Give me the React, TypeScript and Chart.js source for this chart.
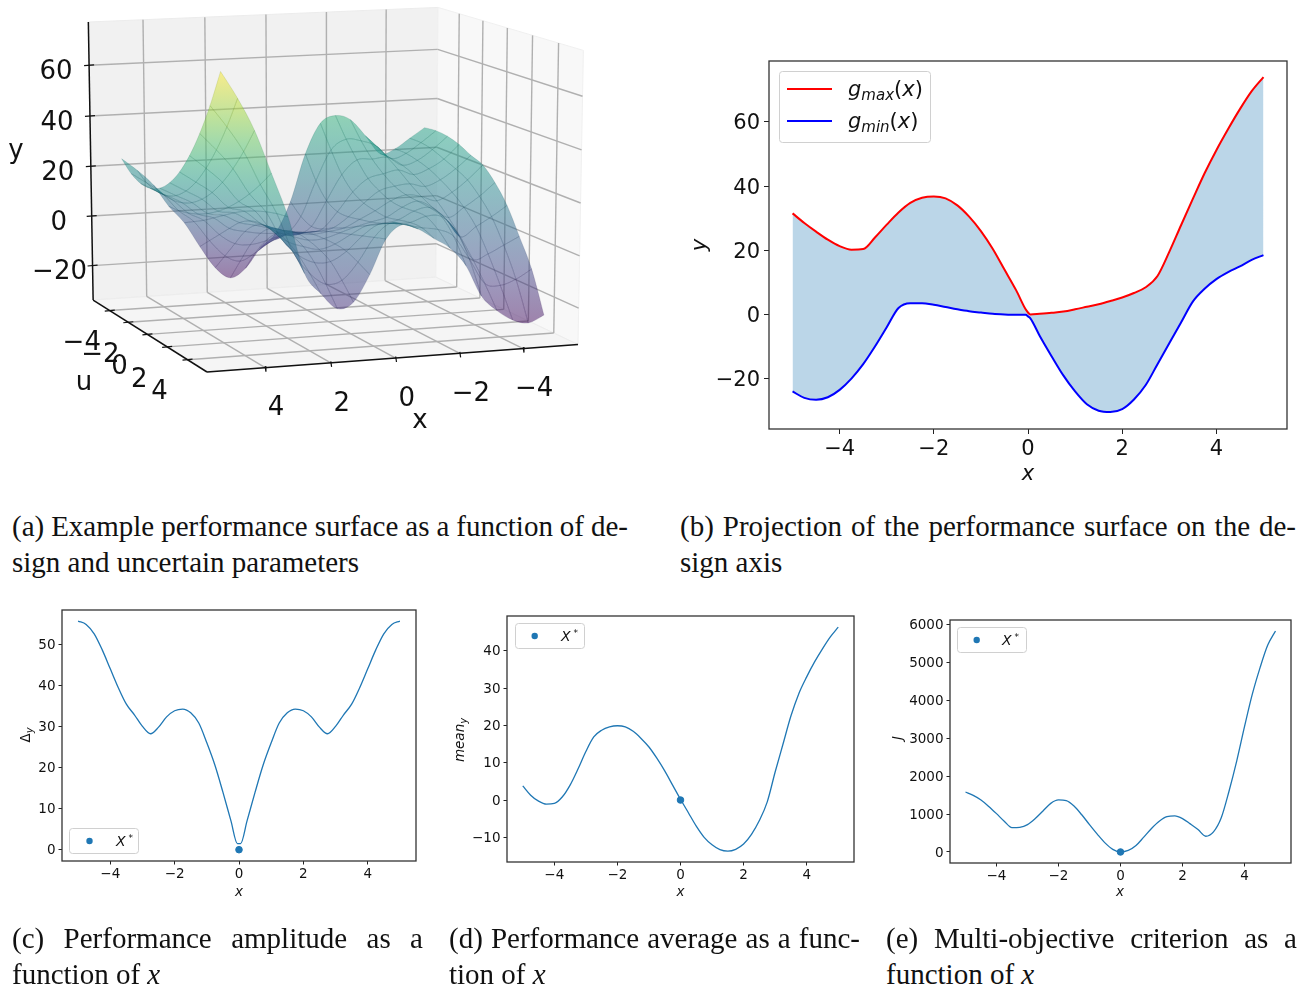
import React, { useEffect, useRef } from "react";
import { Chart, registerables } from "chart.js";
Chart.register(...registerables);

const FONT = '"DejaVu Sans"';
// ---------- 2D data ----------
const xsBand = [-5,-4.75,-4.5,-4.25,-4,-3.75,-3.5,-3.25,-3,-2.75,-2.5,-2.25,-2,-1.75,-1.5,-1.25,-1,-0.75,-0.5,-0.25,-0.05,0,0.05,0.25,0.5,0.75,1,1.25,1.5,1.75,2,2.25,2.5,2.75,3,3.25,3.5,3.75,4,4.25,4.5,4.75,5];
const gMax = [31.5,28.5,25.8,23.3,21.3,20.2,20.4,24,28,31.8,34.8,36.4,36.8,36.2,34,30.5,26,20.5,14,7.5,1.6,0.6,0,0.2,0.5,0.9,1.6,2.4,3.2,4.2,5.3,6.7,8.5,12,19.5,27.8,36,44,51.2,57.8,64,69.6,74];
const gMin = [-24,-26,-26.6,-25.8,-23.5,-20,-15.5,-10,-4,2,3.5,3.5,3,2.3,1.6,1,0.6,0.2,0,-0.1,-0.1,-0.6,-1.2,-6.7,-13,-19,-24,-28,-30,-30.4,-29.5,-26.5,-22,-15.5,-9,-2.5,4,8,11,13.2,15,17,18.5];
const xsDelta = [-5,-4.75,-4.5,-4.25,-4,-3.75,-3.5,-3.25,-3,-2.75,-2.5,-2.25,-2,-1.75,-1.5,-1.25,-1,-0.75,-0.5,-0.25,-0.05,0.05,0.25,0.5,0.75,1,1.25,1.5,1.75,2,2.25,2.5,2.75,3,3.25,3.5,3.75,4,4.25,4.5,4.75,5];
const deltaY = [55.6,54.8,52.5,48.6,44,39.4,35.4,32.8,30,28.2,29.8,32.3,33.8,34.2,33.3,30.8,26,20.6,14,7,1.5,1.5,7,14,20.6,26,30.8,33.3,34.2,33.8,32.3,29.8,28.2,30,32.8,35.4,39.4,44,48.6,52.5,54.8,55.6];
const xsFine = [-5,-4.75,-4.5,-4.25,-4,-3.75,-3.5,-3.25,-3,-2.75,-2.5,-2.25,-2,-1.75,-1.5,-1.25,-1,-0.75,-0.5,-0.25,0,0.25,0.5,0.75,1,1.25,1.5,1.75,2,2.25,2.5,2.75,3,3.25,3.5,3.75,4,4.25,4.5,4.75,5];
const meanY = [3.8,1.3,-0.3,-1.1,-0.9,0.8,4,8.3,13,16.9,18.7,19.6,19.9,19.6,18.4,16.5,14.2,11.2,7.8,4,0.2,-3.4,-7,-10,-12,-13.3,-13.7,-13.2,-11.8,-9.2,-5.5,-0.5,7.5,15,22.5,28.5,33,37,40.5,43.7,46.3];
const criterionJ = [1580,1490,1370,1200,1010,810,640,650,720,880,1080,1280,1370,1350,1210,980,720,470,240,70,0,40,170,390,620,810,930,950,880,740,590,415,530,900,1600,2400,3300,4150,4850,5450,5820];
// ---------- surface data: one row per x value, one column per u value ----------
const surfaceX = [-5,-4.5,-4,-3.5,-3,-2.5,-2,-1.5,-1,-0.5,0,0.5,1,1.5,2,2.5,3,3.5,4,4.5,5];
const surfaceU = [-5,-4,-3,-2,-1,0,1,2,3,4,5];
const surfaceY = [
[30,30.5,30,28.5,26,24,19,12,2,-8.5,-24],
[26,26,25,23,21,18.5,14,8,-1,-12,-26.6],
[22,22,21,19.5,17,14,10,4.5,-4,-14,-25],
[20.4,20.3,19.4,17.5,14.7,11,6.4,0.9,-5.5,-12.8,-21],
[28,25.7,22.9,19.7,16.1,13,10.5,8.5,5,-3,-15],
[34.8,28,22.5,18.5,15.5,14,13.5,13,11.5,6,-3],
[36.8,29,22.5,17,14,12,11.5,12,12,9,4],
[34,25,17,12,9.5,8.5,8,9,10,10,8],
[22,13,7,4.5,4.5,5.5,6.5,8,10,11.5,12],
[3,-1,-3,-2,0.5,2.5,5,7.5,10,12.5,14],
[-9.5,-8,-6,-3,-0.5,1.5,3,4.5,6,7.5,9],
[-15,-10.5,-6,-2.8,-0.5,0.8,1.2,1.2,0.5,-1.5,-4],
[-23,-14.5,-7.7,-2.6,0.5,1.6,1,-0.5,-3,-8,-14],
[-26.5,-17.5,-8.8,-2.2,1.8,3.2,2.8,1,-3,-9,-16],
[-22,-15,-8,-1.1,3.4,5.3,5,3.3,0.2,-4.5,-10],
[-13,-8.5,-4,0.5,4.8,7.5,8.6,8.1,6.4,3.7,-2],
[-3,-0.5,2,5,8,11,13.6,15.7,17.4,18.7,19.5],
[4,4.3,5.3,6.9,9.1,12,15.5,19.7,24.5,29.9,36],
[13,11.3,10.9,11.7,13.7,17,21.5,27.3,34.3,42.5,52],
[19,15.9,14.6,14.9,16.8,20.5,25.8,32.9,41.6,51.9,64],
[24,20,18,18,20,24,30,38,48,60,74],
];
const ticks3dX = [4,2,0,-2,-4];
const ticks3dU = [-4,-2,0,2,4];
const ticks3dY = [-20,0,20,40,60];
const viridis = ["#440154","#482475","#414487","#355f8d","#2a788e","#21918c","#22a884","#44bf70","#7ad151","#bddf26","#fde725"];

const fmt = (v: number) => (v < 0 ? "\u2212" + Math.abs(v) : String(v));
type Run = { t: string; size: number; italic?: boolean; dy?: number };

function drawRuns(ctx: any, x: number, y: number, runs: Run[], rotate = false, center = false) {
  ctx.save();
  ctx.translate(x, y);
  if (rotate) ctx.rotate(-Math.PI / 2);
  ctx.fillStyle = "#111";
  ctx.textBaseline = "alphabetic";
  ctx.textAlign = "left";
  const fontOf = (r: Run) => `${r.italic === false ? "" : "italic "}${r.size}px ${FONT}`;
  let w = 0;
  for (const r of runs) { ctx.font = fontOf(r); w += ctx.measureText(r.t).width; }
  let cx = center ? -w / 2 : 0;
  for (const r of runs) {
    ctx.font = fontOf(r);
    ctx.fillText(r.t, cx, r.dy || 0);
    cx += ctx.measureText(r.t).width;
  }
  ctx.restore();
}

function roundBox(ctx: any, x: number, y: number, w: number, h: number) {
  ctx.save();
  ctx.beginPath();
  ctx.roundRect(x + 0.5, y + 0.5, w, h, 3);
  ctx.fillStyle = "rgba(255,255,255,0.9)";
  ctx.fill();
  ctx.strokeStyle = "#d0d0d0";
  ctx.lineWidth = 1;
  ctx.stroke();
  ctx.restore();
}

type Frame = { l: number; r: number; t: number; b: number };
const M = { left: 90, right: 12, top: 22, bottom: 70 };
const rectOf = (f: Frame) => ({ left: f.l - M.left, top: f.t - M.top, width: f.r - f.l + M.left + M.right, height: f.b - f.t + M.top + M.bottom });

function panelConfig(f: Frame, ylim: number[], yTicks: number[], size: number, tickLen: number, datasets: any[], overlay: (ctx: any) => void) {
  const tickOpts = { color: "#111", font: { family: FONT, size }, callback: (v: any) => fmt(Number(v)), maxRotation: 0, autoSkip: false };
  const grid = { display: true, drawOnChartArea: false, drawTicks: true, tickLength: tickLen, tickColor: "#222", tickWidth: 1 };
  return {
    type: "line",
    data: { datasets },
    options: {
      animation: false, responsive: false, devicePixelRatio: 1,
      layout: { padding: { top: M.top, right: M.right, left: 0, bottom: 0 } },
      plugins: { legend: { display: false }, title: { display: false }, tooltip: { enabled: false } },
      elements: { point: { radius: 0 } },
      scales: {
        x: {
          type: "linear", min: -5.5, max: 5.5, grid, border: { display: false },
          ticks: { ...tickOpts, padding: size > 15 ? 3 : 2 },
          afterBuildTicks: (s: any) => { s.ticks = [-4, -2, 0, 2, 4].map((value) => ({ value })); },
          afterFit: (s: any) => { s.height = M.bottom; },
        },
        y: {
          type: "linear", min: ylim[0], max: ylim[1], grid, border: { display: false },
          ticks: { ...tickOpts, padding: size > 15 ? 4 : 3, labelOffset: size > 15 ? 2 : 1.2 },
          afterBuildTicks: (s: any) => { s.ticks = yTicks.map((value) => ({ value })); },
          afterFit: (s: any) => { s.width = M.left; },
        },
      },
    },
    plugins: [{
      id: "overlay",
      afterDraw(chart: any) {
        const c = chart.ctx; const a = chart.chartArea;
        c.save();
        c.strokeStyle = "#333"; c.lineWidth = 1.3;
        c.strokeRect(a.left, a.top, a.right - a.left, a.bottom - a.top);
        c.restore();
        c.save();
        c.translate(-(f.l - M.left), -(f.t - M.top));
        overlay(c);
        c.restore();
      },
    }],
  };
}

const pts = (xs: number[], ys: number[]) => xs.map((x, i) => ({ x, y: ys[i] }));
const curve = (xs: number[], ys: number[], color: string, width: number, extra: any = {}) => ({
  data: pts(xs, ys), borderColor: color, borderWidth: width, pointRadius: 0, cubicInterpolationMode: "monotone", fill: false, ...extra,
});
const star = (x: number, y: number, color = "#1f77b4") => ({
  data: [{ x, y }], showLine: false, pointRadius: 3.3, pointBackgroundColor: color, pointBorderColor: color, order: -1,
});

function smallLegend(c: any, x: number, y: number, mx: number, tx: number) {
  roundBox(c, x, y, 69, 25);
  c.beginPath(); c.arc(mx, y + 13, 3.2, 0, 7); c.fillStyle = "#1f77b4"; c.fill();
  drawRuns(c, tx, y + 18, [{ t: "X", size: 14 }, { t: " *", size: 9, dy: -5, italic: false }]);
}

const frameB: Frame = { l: 769, r: 1287, t: 61, b: 429 };
const frameC: Frame = { l: 62, r: 416, t: 610, b: 861 };
const frameD: Frame = { l: 507, r: 854, t: 616, b: 862 };
const frameE: Frame = { l: 950, r: 1291, t: 620, b: 863 };

const configB = () => panelConfig(frameB, [-35.7, 79], [-20, 0, 20, 40, 60], 21, 5, [
  curve(xsBand, gMax, "#ff0000", 2),
  curve(xsBand, gMin, "#0000ff", 2, { fill: "-1", backgroundColor: "rgba(31,119,180,0.3)" }),
], (c) => {
  roundBox(c, 779, 71, 151, 71);
  c.lineWidth = 2;
  c.strokeStyle = "#ff0000"; c.beginPath(); c.moveTo(787, 89); c.lineTo(832, 89); c.stroke();
  c.strokeStyle = "#0000ff"; c.beginPath(); c.moveTo(787, 121); c.lineTo(832, 121); c.stroke();
  drawRuns(c, 848, 96, [{ t: "g", size: 21 }, { t: "max", size: 15, dy: 4 }, { t: "(", size: 21, italic: false }, { t: "x", size: 21 }, { t: ")", size: 21, italic: false }]);
  drawRuns(c, 848, 128, [{ t: "g", size: 21 }, { t: "min", size: 15, dy: 4 }, { t: "(", size: 21, italic: false }, { t: "x", size: 21 }, { t: ")", size: 21, italic: false }]);
  drawRuns(c, 1028, 480, [{ t: "x", size: 21 }], false, true);
  drawRuns(c, 706, 245, [{ t: "y", size: 21 }], true, true);
});
const configC = () => panelConfig(frameC, [-2.75, 58.3], [0, 10, 20, 30, 40, 50], 13.5, 3.5, [
  star(0, 0), curve(xsDelta, deltaY, "#1f77b4", 1.3),
], (c) => {
  smallLegend(c, 69, 828, 89.5, 116);
  drawRuns(c, 239, 896, [{ t: "x", size: 13.5 }], false, true);
  drawRuns(c, 30, 735, [{ t: "\u0394", size: 13.5, italic: false }, { t: "y", size: 10, dy: 3 }], true, true);
});
const configD = () => panelConfig(frameD, [-16.6, 49.3], [-10, 0, 10, 20, 30, 40], 13.5, 3.5, [
  star(0, 0), curve(xsFine, meanY, "#1f77b4", 1.3),
], (c) => {
  smallLegend(c, 515, 623, 534.7, 561);
  drawRuns(c, 680.5, 896, [{ t: "x", size: 13.5 }], false, true);
  drawRuns(c, 464, 740, [{ t: "mean", size: 13.5 }, { t: "y", size: 10, dy: 3 }], true, true);
});
const configE = () => panelConfig(frameE, [-290, 6110], [0, 1000, 2000, 3000, 4000, 5000, 6000], 13.5, 3.5, [
  star(0, 0), curve(xsFine, criterionJ, "#1f77b4", 1.3),
], (c) => {
  smallLegend(c, 957, 627, 976.7, 1002);
  drawRuns(c, 1120, 896, [{ t: "x", size: 13.5 }], false, true);
  drawRuns(c, 902, 738, [{ t: "J", size: 13.5 }], true, true);
});

// ---------- 3D panel ----------
const W3 = 620, H3 = 450;
const LIM = { xmin: -5.75, xmax: 5.75, umin: -5.85, umax: 5.85, zmin: -34, zmax: 77 };
const ELEV = 12 * Math.PI / 180, AZIM = 70.2 * Math.PI / 180, DIST = 10;
const nrm = [Math.cos(ELEV) * Math.cos(AZIM), Math.cos(ELEV) * Math.sin(AZIM), Math.sin(ELEV)];
const eye = nrm.map((v) => 0.5 + DIST * v);
const right = (() => { const l = Math.hypot(nrm[0], nrm[1]); return [-nrm[1] / l, nrm[0] / l, 0]; })();
const up = [nrm[1] * right[2] - nrm[2] * right[1], nrm[2] * right[0] - nrm[0] * right[2], nrm[0] * right[1] - nrm[1] * right[0]];
const dot = (a: number[], b: number[]) => a[0] * b[0] + a[1] * b[1] + a[2] * b[2];
function view(x: number, u: number, z: number) {
  const P = [(x - LIM.xmin) / (LIM.xmax - LIM.xmin) - eye[0], (u - LIM.umin) / (LIM.umax - LIM.umin) - eye[1], (z - LIM.zmin) / (LIM.zmax - LIM.zmin) - eye[2]];
  const d = dot(nrm, P);
  return { px: (dot(right, P) * DIST) / -d, py: (dot(up, P) * DIST) / -d, d };
}
const aF = view(LIM.xmax, LIM.umax, LIM.zmin), aG = view(LIM.xmin, LIM.umax, LIM.zmin), aH = view(LIM.xmax, LIM.umin, LIM.zmax);
const Ax = (578 - 207) / (aG.px - aF.px), Bx = 207 - Ax * aF.px;
const Ay = (22 - 372) / (aH.py - aF.py), By = 372 - Ay * aF.py;
const proj = (x: number, u: number, z: number) => { const v = view(x, u, z); return { x: Ax * v.px + Bx, y: Ay * v.py + By }; };

function hexRgb(h: string) { return [1, 3, 5].map((i) => parseInt(h.slice(i, i + 2), 16)); }
function cmap(t: number, alpha: number, k = 1) {
  const s = Math.max(0, Math.min(0.9999, t)) * (viridis.length - 1);
  const i = Math.floor(s), f = s - i;
  const a = hexRgb(viridis[i]), b = hexRgb(viridis[i + 1]);
  const c = a.map((v, j) => Math.round((v + (b[j] - v) * f) * k));
  return `rgba(${c[0]},${c[1]},${c[2]},${alpha})`;
}
const tOf = (z: number) => (z + 30.5) / 104.5;

function config3D() {
  const { xmin, xmax, umin, umax, zmin, zmax } = LIM;
  const paint: any[] = [];
  const seg = (a: number[], b: number[], color: string, width: number) => paint.push({ data: [proj(a[0], a[1], a[2]), proj(b[0], b[1], b[2])], borderColor: color, borderWidth: width });
  const poly = (cs: number[][], bg: string, border: string, width: number) => {
    const p = cs.map((c) => proj(c[0], c[1], c[2]));
    paint.push({ data: [...p, p[0]], polygon: true, polyColor: bg, borderColor: border, borderWidth: width });
  };
  poly([[xmax, umin, zmin], [xmin, umin, zmin], [xmin, umin, zmax], [xmax, umin, zmax]], "#f1f1f1", "#ececec", 1);
  poly([[xmin, umin, zmin], [xmin, umax, zmin], [xmin, umax, zmax], [xmin, umin, zmax]], "#f8f8f8", "#f0f0f0", 1);
  poly([[xmax, umin, zmin], [xmin, umin, zmin], [xmin, umax, zmin], [xmax, umax, zmin]], "#f5f5f5", "#ececec", 1);
  const G = "#b0b0b0";
  for (const t of ticks3dX) {
    seg([t, umin, zmax], [t, umin, zmin], G, 1.4);
    seg([t, umin, zmin], [t, umax, zmin], G, 1.4);
  }
  for (const t of ticks3dU) {
    seg([xmin, t, zmax], [xmin, t, zmin], G, 1.4);
    seg([xmax, t, zmin], [xmin, t, zmin], G, 1.4);
  }
  for (const t of ticks3dY) {
    seg([xmax, umin, t], [xmin, umin, t], G, 1.4);
    seg([xmin, umin, t], [xmin, umax, t], G, 1.4);
  }
  const K = "#111";
  seg([xmax, umin, zmin], [xmax, umin, zmax], K, 1.5);
  seg([xmax, umin, zmin], [xmax, umax, zmin], K, 1.5);
  seg([xmax, umax, zmin], [xmin, umax, zmin], K, 1.5);
  const tickSeg = (p: any, dx0: number, dy0: number, dx1: number, dy1: number) => paint.push({ data: [{ x: p.x + dx0, y: p.y + dy0 }, { x: p.x + dx1, y: p.y + dy1 }], borderColor: K, borderWidth: 1.2 });
  for (const t of ticks3dY) tickSeg(proj(xmax, umin, t), -5, 0.4, 5, -0.4);
  for (const t of ticks3dU) tickSeg(proj(xmax, t, zmin), -5, 0.5, 5, -0.5);
  for (const t of ticks3dX) tickSeg(proj(t, umax, zmin), 0, -1.5, 0.8, 4);

  const nx = surfaceX.length, nu = surfaceU.length;
  const P = surfaceX.map((x, i) => surfaceU.map((u, j) => proj(x, u, surfaceY[i][j])));
  // Curved mesh edges: the tangent at a vertex comes from its two neighbours, the same idea as line tension.
  const tanX = (i: number, j: number) => { const a = P[Math.max(i - 1, 0)][j], b = P[Math.min(i + 1, nx - 1)][j]; return { x: (b.x - a.x) / 6, y: (b.y - a.y) / 6 }; };
  const tanU = (i: number, j: number) => { const a = P[i][Math.max(j - 1, 0)], b = P[i][Math.min(j + 1, nu - 1)]; return { x: (b.x - a.x) / 6, y: (b.y - a.y) / 6 }; };
  const edge = (a: any, ta: any, b: any, tb: any, s: number) => ({ c1: { x: a.x + s * ta.x, y: a.y + s * ta.y }, c2: { x: b.x - s * tb.x, y: b.y - s * tb.y } });

  const quads: any[] = [];
  for (let i = 0; i < nx - 1; i++) {
    for (let j = 0; j < nu - 1; j++) {
      const idx = [[i, j], [i + 1, j], [i + 1, j + 1], [i, j + 1]];
      const corners = idx.map(([a, b]) => [surfaceX[a], surfaceU[b], surfaceY[a][b]]);
      const avg = (k: number) => corners.reduce((s, c) => s + c[k], 0) / 4;
      const edges = [
        edge(P[i][j], tanX(i, j), P[i + 1][j], tanX(i + 1, j), 1),
        edge(P[i + 1][j], tanU(i + 1, j), P[i + 1][j + 1], tanU(i + 1, j + 1), 1),
        edge(P[i + 1][j + 1], tanX(i + 1, j + 1), P[i][j + 1], tanX(i, j + 1), -1),
        edge(P[i][j + 1], tanU(i, j + 1), P[i][j], tanU(i, j), -1),
      ];
      quads.push({ corners, edges, depth: view(avg(0), avg(1), avg(2)).d, t: tOf(avg(2)) });
    }
  }
  quads.sort((a, b) => a.depth - b.depth);
  for (const q of quads) {
    const p = q.corners.map((c: number[]) => proj(c[0], c[1], c[2]));
    paint.push({
      data: [...p, p[0]], polygon: true, polyT: q.corners.map((c: number[]) => tOf(c[2])), polyEdges: q.edges,
      meshColor: cmap(q.t, 0.3, 0.7), borderColor: "rgba(0,0,0,0)", borderWidth: 0,
    });
  }
  const N = paint.length;
  const datasets = paint.map((d, i) => ({ ...d, order: N - i, pointRadius: 0, tension: 0, fill: false }));

  const labels: any[] = [];
  for (const t of ticks3dY) { const p = proj(xmax, umin, t); labels.push({ t: fmt(t), x: p.x - 33, y: p.y + 7 }); }
  for (const t of ticks3dU) { const p = proj(xmax, t, zmin); labels.push({ t: fmt(t), x: p.x - 28, y: p.y + 33 }); }
  for (const t of ticks3dX) { const p = proj(t, umax, zmin); labels.push({ t: fmt(t), x: p.x + 11, y: p.y + 41 }); }
  labels.push({ t: "y", x: 16, y: 151 }, { t: "u", x: 84, y: 383 }, { t: "x", x: 420, y: 421 });

  return {
    type: "line",
    data: { datasets },
    options: {
      animation: false, responsive: false, devicePixelRatio: 1,
      layout: { padding: 0 },
      plugins: { legend: { display: false }, title: { display: false }, tooltip: { enabled: false } },
      scales: {
        x: { type: "linear", min: 0, max: W3, display: false },
        y: { type: "linear", min: 0, max: H3, reverse: true, display: false },
      },
    },
    plugins: [{
      id: "polygons",
      beforeDatasetDraw(chart: any, args: any) {
        const ds = chart.data.datasets[args.index];
        if (!ds.polygon) return;
        const c = chart.ctx;
        const els = args.meta.data;
        const sx = chart.scales.x, sy = chart.scales.y;
        c.save(); c.beginPath();
        if (ds.polyEdges) {
          c.moveTo(els[0].x, els[0].y);
          ds.polyEdges.forEach((e: any, i: number) => {
            const to = els[(i + 1) % 4];
            c.bezierCurveTo(sx.getPixelForValue(e.c1.x), sy.getPixelForValue(e.c1.y), sx.getPixelForValue(e.c2.x), sy.getPixelForValue(e.c2.y), to.x, to.y);
          });
        } else {
          els.forEach((el: any, i: number) => (i ? c.lineTo(el.x, el.y) : c.moveTo(el.x, el.y)));
        }
        c.closePath();
        if (ds.polyT) {
          let lo = 0, hi = 0;
          for (let i = 0; i < 4; i++) { if (els[i].y < els[lo].y) lo = i; if (els[i].y > els[hi].y) hi = i; }
          const g = c.createLinearGradient(0, els[lo].y, 0, Math.max(els[hi].y, els[lo].y + 0.01));
          g.addColorStop(0, cmap(ds.polyT[lo], 0.5));
          g.addColorStop(1, cmap(ds.polyT[hi], 0.5));
          c.fillStyle = g;
        } else c.fillStyle = ds.polyColor;
        c.fill();
        if (ds.meshColor) { c.strokeStyle = ds.meshColor; c.lineWidth = 0.6; c.stroke(); }
        c.restore();
      },
      afterDraw(chart: any) {
        const c = chart.ctx;
        c.save();
        c.fillStyle = "#111"; c.font = `26px ${FONT}`; c.textAlign = "center"; c.textBaseline = "middle";
        const sx = chart.scales.x, sy = chart.scales.y;
        for (const l of labels) c.fillText(l.t, sx.getPixelForValue(l.x), sy.getPixelForValue(l.y));
        c.restore();
      },
    }],
  };
}

function ChartBox({ rect, make }: { rect: any; make: () => any }) {
  const ref = useRef<HTMLCanvasElement>(null);
  useEffect(() => {
    const chart = new Chart(ref.current as any, make());
    return () => chart.destroy();
  }, []);
  return <canvas ref={ref} width={rect.width} height={rect.height} style={{ position: "absolute", display: "block", left: rect.left, top: rect.top, width: rect.width, height: rect.height }} />;
}

function Line({ x, y, w, children }: { x: number; y: number; w?: number; children: any }) {
  const style: any = { position: "absolute", left: x, top: y - 18, height: 36, lineHeight: "36px", fontFamily: '"Liberation Serif", serif', fontSize: 29, color: "#111", whiteSpace: "nowrap" };
  if (w) { style.width = w; style.textAlign = "justify"; style.textAlignLast = "justify"; style.whiteSpace = "normal"; style.wordSpacing = "-2px"; }
  return <div style={style}>{children}</div>;
}

export default function App() {
  return (
    <div style={{ position: "absolute", left: 0, top: 0, width: 1308, height: 990, overflow: "hidden", background: "#fff" }}>
      <ChartBox rect={{ left: 0, top: 0, width: W3, height: H3 }} make={config3D} />
      <ChartBox rect={rectOf(frameB)} make={configB} />
      <ChartBox rect={rectOf(frameC)} make={configC} />
      <ChartBox rect={rectOf(frameD)} make={configD} />
      <ChartBox rect={rectOf(frameE)} make={configE} />
      <Line x={12} y={526} w={616}>(a) Example performance surface as a function of de-</Line>
      <Line x={12} y={562}>sign and uncertain parameters</Line>
      <Line x={680} y={526} w={616}>(b) Projection of the performance surface on the de-</Line>
      <Line x={680} y={562}>sign axis</Line>
      <Line x={12} y={938} w={411}>(c) Performance amplitude as a</Line>
      <Line x={12} y={974}>function of <i>x</i></Line>
      <Line x={449} y={938} w={411}>(d) Performance average as a func-</Line>
      <Line x={449} y={974}>tion of <i>x</i></Line>
      <Line x={886} y={938} w={411}>(e) Multi-objective criterion as a</Line>
      <Line x={886} y={974}>function of <i>x</i></Line>
    </div>
  );
}
